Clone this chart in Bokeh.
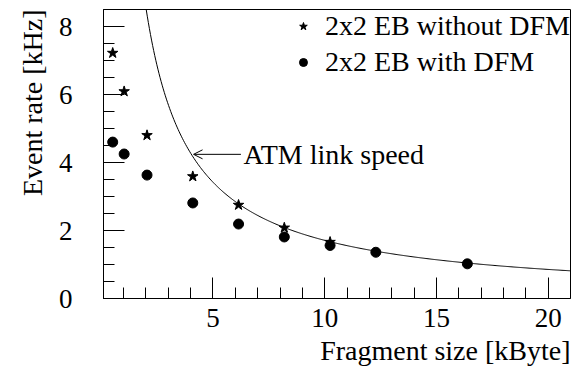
import numpy as np
from bokeh.plotting import figure
from bokeh.models import (Range1d, FixedTicker, Label, Arrow, OpenHead, Legend,
                          LegendItem, Title)
from bokeh.embed import file_html
from bokeh.resources import INLINE

# ---- data ----
size_no_dfm = [0.512, 1.024, 2.048, 4.096, 6.144, 8.192, 10.24]
rate_no_dfm = [7.22, 6.09, 4.80, 3.59, 2.75, 2.08, 1.66]

size_dfm = [0.512, 1.024, 2.048, 4.096, 6.144, 8.192, 10.24, 12.288, 16.384]
rate_dfm = [4.60, 4.25, 3.63, 2.81, 2.19, 1.81, 1.56, 1.36, 1.02]

# ATM link speed curve: rate [kHz] = throughput [kByte/ms] / fragment size [kByte]
atm_throughput = 17.1
curve_size = np.linspace(atm_throughput / 8.5, 21.0, 400)
curve_rate = atm_throughput / curve_size

x_major = [5, 10, 15, 20]
x_minor = list(range(1, 21))
y_major = [0, 2, 4, 6, 8]
y_minor = [i * 0.5 for i in range(0, 18)]

FONT = "'Liberation Serif', serif"
FS_TICK = "27px"
FS = "28px"

p = figure(width=571, height=369, output_backend="svg", toolbar_location=None,
           x_range=Range1d(0.1, 21.0), y_range=Range1d(0, 8.5),
           min_border_left=103, min_border_right=1, min_border_top=9, min_border_bottom=71)

p.grid.visible = False
p.outline_line_color = "black"
p.outline_line_width = 1
p.background_fill_color = "white"
p.border_fill_color = "white"

for ax in (p.xaxis[0], p.yaxis[0]):
    ax.major_tick_in = 21
    ax.major_tick_out = 0
    ax.minor_tick_in = 11
    ax.minor_tick_out = 0
    ax.major_tick_line_color = "black"
    ax.minor_tick_line_color = "black"
    ax.axis_line_color = "black"
    ax.major_label_text_font = FONT
    ax.major_label_text_font_size = FS_TICK
    ax.major_label_text_color = "black"

p.xaxis[0].ticker = FixedTicker(ticks=x_major, minor_ticks=x_minor)
p.yaxis[0].ticker = FixedTicker(ticks=y_major, minor_ticks=y_minor)
p.xaxis[0].major_label_standoff = 10
p.yaxis[0].major_label_standoff = 31

# curve
p.line(curve_size, curve_rate, line_color="black", line_width=1)

# data
r_star = p.scatter(size_no_dfm, rate_no_dfm, marker="star", size=11,
                   fill_color="black", line_color="black")
r_circ = p.scatter(size_dfm, rate_dfm, marker="circle", size=10,
                   fill_color="black", line_color="black")

legend = Legend(items=[LegendItem(label="2x2 EB without DFM", renderers=[r_star]),
                       LegendItem(label="2x2 EB with DFM", renderers=[r_circ])],
                location="top_right", border_line_alpha=0, background_fill_alpha=0,
                label_text_font=FONT, label_text_font_size=FS, label_text_color="black",
                glyph_width=20, glyph_height=34, label_standoff=12, spacing=2,
                padding=0, margin=0)
p.add_layout(legend)

# annotation
p.add_layout(Arrow(end=OpenHead(size=9, line_width=1, line_color="black"),
                   x_start=6.25, y_start=4.24, x_end=4.13, y_end=4.24,
                   line_color="black", line_width=1))
p.add_layout(Label(x=6.37, y=4.24, text="ATM link speed", text_font=FONT,
                   text_font_size=FS, text_baseline="middle", text_color="black"))

# axis titles
p.add_layout(Title(text="Fragment size [kByte]", align="right", text_font=FONT,
                   text_font_size=FS, text_font_style="normal", text_color="black",
                   standoff=7), "below")
p.add_layout(Title(text="Event rate [kHz]", align="right", vertical_align="top",
                   text_font=FONT, text_font_size=FS, text_font_style="normal",
                   text_color="black", standoff=12), "left")

open("out.html", "w").write(file_html(p, INLINE))
